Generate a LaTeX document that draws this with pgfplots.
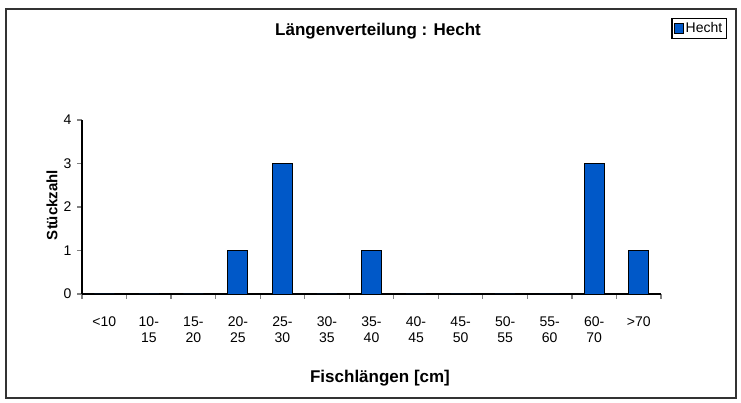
\documentclass[border=0pt]{standalone}
\usepackage{pgfplots}
\pgfplotsset{compat=1.18}
\usepackage{fontspec}
\setmainfont{Liberation Sans}
\definecolor{barblue}{RGB}{0,88,200}
\begin{document}
\begin{tikzpicture}[x=1pt,y=1pt]
\path (0,0) rectangle (741,403);
\draw[line width=1.2pt, black!80] (6,5) rectangle (736,394);
\begin{axis}[
  at={(82pt,109pt)}, anchor=south west,
  scale only axis, width=579pt, height=174pt,
  xmin=-0.5, xmax=12.5, ymin=0, ymax=4,
  axis x line*=bottom, axis y line*=left,
  axis line style={line width=1.2pt},
  ytick={0,1,2,3,4},
  xtick={0,...,12},
  xticklabels={{<10},{10-\\15},{15-\\20},{20-\\25},{25-\\30},{30-\\35},{35-\\40},{40-\\45},{45-\\50},{50-\\55},{55-\\60},{60-\\70},{>70}},
  minor xtick={-0.5,0.5,...,12.5},
  major x tick style={draw=none},
  minor x tick style={line width=1.2pt},
  y tick style={line width=1.2pt},
  tick align=outside,
  major tick length=5pt, minor tick length=5pt,
  /pgf/number format/assume math mode=true,
  ticklabel style={font=\fontsize{14}{16}\selectfont},
  xticklabel style={align=center, anchor=north, yshift=-14pt},
  yticklabel style={xshift=-2pt},
  ybar, bar width=20pt,
  legend style={at={(1.114,1.586)}, anchor=north east, draw=black, line width=1.4pt,
    font=\fontsize{14}{16}\selectfont, inner xsep=2pt, inner ysep=2pt, row sep=0pt},
  legend image code/.code={\draw[fill=barblue, draw=black, line width=0.7pt] (0pt,-5pt) rectangle (9pt,5pt);},
  legend cell align=left,
]
\addplot[fill=barblue, draw=black, line width=0.8pt] coordinates {
  (0,0) (1,0) (2,0) (3,1) (4,3) (5,0) (6,1) (7,0) (8,0) (9,0) (10,0) (11,3) (12,1)
};
\addlegendentry{Hecht}
\end{axis}
\node[font=\fontsize{17}{20}\selectfont\bfseries] at (378,372) {Längenverteilung : Hecht};
\node[font=\fontsize{17}{20}\selectfont\bfseries] at (380,25) {Fischlängen [cm]};
\node[font=\fontsize{15}{18}\selectfont\bfseries, rotate=90] at (52,198) {Stückzahl};
\end{tikzpicture}
\end{document}
